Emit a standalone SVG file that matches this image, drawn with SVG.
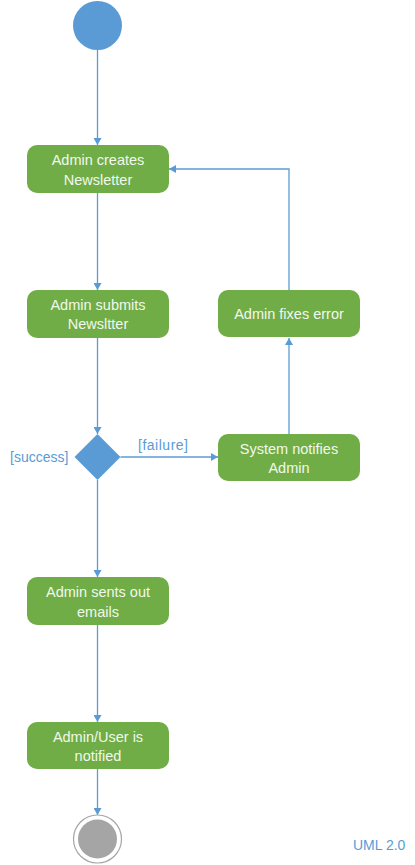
<svg xmlns="http://www.w3.org/2000/svg" width="415" height="865" viewBox="0 0 415 865">
<style>
.act{fill:#70ad47;}
.t{font-family:"Liberation Sans",Arial,sans-serif;font-size:14.5px;fill:#f2f8ec;text-anchor:middle;}
.g{font-family:"Liberation Sans",Arial,sans-serif;font-size:14px;fill:#5b9bd5;}
.c{fill:none;stroke:#5b9bd5;stroke-width:1.3;marker-end:url(#ah);}
</style>
<defs>
<marker id="ah" markerWidth="8" markerHeight="8" refX="7" refY="4" orient="auto" markerUnits="userSpaceOnUse">
<path d="M0,0 L7,4 L0,8 Z" fill="#5b9bd5"/>
</marker>
</defs>
<rect width="415" height="865" fill="#ffffff"/>
<g id="connectors">
<path class="c" d="M97.5,50 L97.5,145"/>
<path class="c" d="M97.5,193 L97.5,290"/>
<path class="c" d="M97.5,338 L97.5,434"/>
<path class="c" d="M120.5,457 L218,457"/>
<path class="c" d="M289,434 L289,338"/>
<path class="c" d="M289,290 L289,169 L169,169"/>
<path class="c" d="M97.5,480 L97.5,577"/>
<path class="c" d="M97.5,625 L97.5,722"/>
<path class="c" d="M97.5,769 L97.5,815"/>
</g>
<g id="start"><circle cx="97.5" cy="25.5" r="24.5" fill="#5b9bd5"/></g>
<g id="create"><rect class="act" x="27" y="145" width="142" height="48" rx="10"/>
<text class="t" x="98" y="164.5">Admin creates</text><text class="t" x="98" y="184.5">Newsletter</text></g>
<g id="submit"><rect class="act" x="27" y="290" width="142" height="48" rx="10"/>
<text class="t" x="98" y="309.5">Admin submits</text><text class="t" x="98" y="328.5">Newsltter</text></g>
<g id="fix"><rect class="act" x="218" y="290" width="142" height="47" rx="10"/>
<text class="t" x="289" y="318.5">Admin fixes error</text></g>
<g id="decision"><path d="M97.5,434 L120.5,457 L97.5,480 L74.5,457 Z" fill="#5b9bd5"/></g>
<g id="labels"><text class="g" x="138" y="450" textLength="50">[failure]</text><text class="g" x="10" y="462">[success]</text></g>
<g id="notify"><rect class="act" x="218" y="434" width="142" height="47" rx="10"/>
<text class="t" x="289" y="453.5">System notifies</text><text class="t" x="289" y="472.5">Admin</text></g>
<g id="emails"><rect class="act" x="27" y="577" width="142" height="48" rx="10"/>
<text class="t" x="98" y="596.5">Admin sents out</text><text class="t" x="98" y="616.5">emails</text></g>
<g id="notified"><rect class="act" x="27" y="722" width="142" height="47" rx="10"/>
<text class="t" x="98" y="741.5">Admin/User is</text><text class="t" x="98" y="760.5">notified</text></g>
<g id="end"><circle cx="97.5" cy="839" r="24" fill="#ffffff" stroke="#a5a5a5" stroke-width="1.2"/><circle cx="97.5" cy="839" r="19.5" fill="#a5a5a5"/></g>
<g id="note"><text class="g" x="353" y="850">UML 2.0</text></g>
</svg>
